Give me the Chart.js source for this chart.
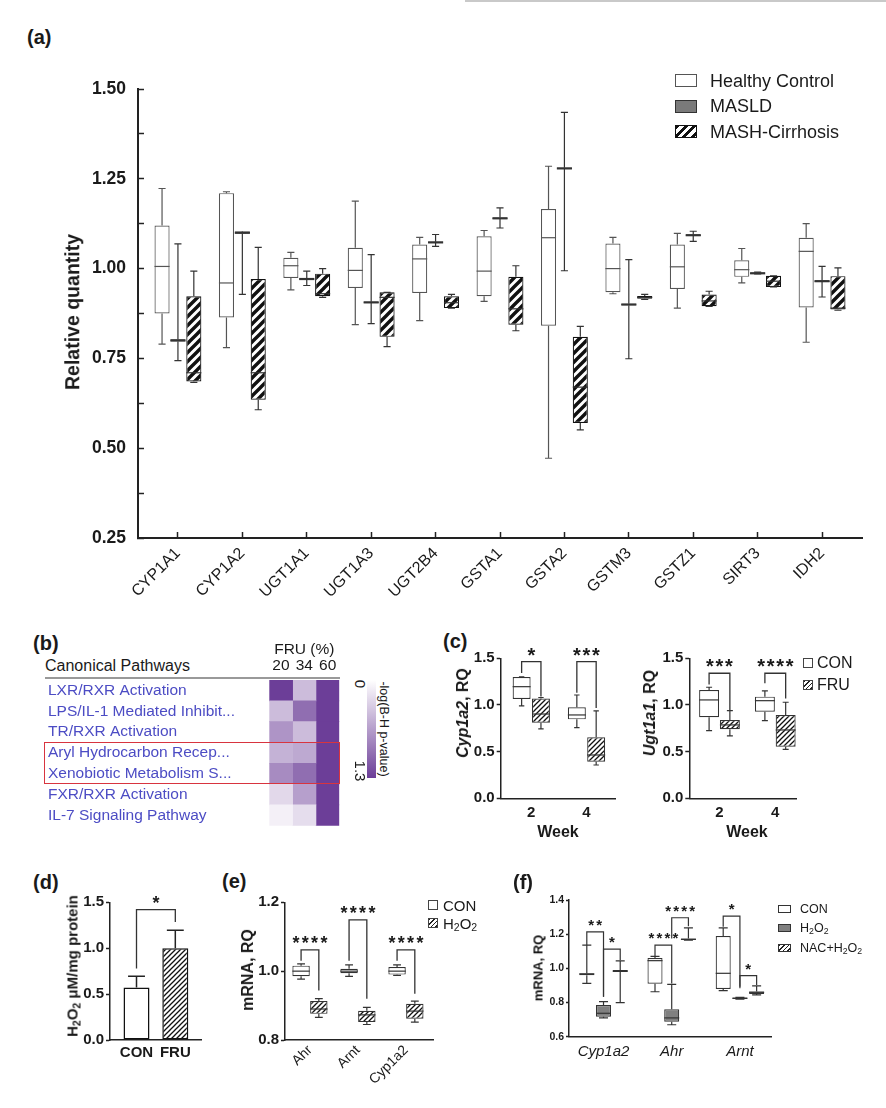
<!DOCTYPE html>
<html>
<head>
<meta charset="utf-8">
<title>Figure</title>
<script src="https://cdn.jsdelivr.net/npm/chart.js@4.4.0/dist/chart.umd.min.js"></script>
<style>
  body { margin: 0; background: #fff; }
  #fig { position: relative; width: 886px; height: 1108px; overflow: hidden; background: #fff;
         font-family: 'Liberation Sans', Arial, sans-serif; color: #1a1a1a; }
  #fig canvas { position: absolute; }
  .t   { position: absolute; white-space: nowrap; line-height: 1; transform: translateY(-50%); }
  .tc  { position: absolute; white-space: nowrap; line-height: 1; transform: translate(-50%, -50%); }
  .pl  { font-weight: bold; font-size: 20px; }
  .ttl { position: absolute; white-space: nowrap; line-height: 1; font-weight: bold;
         transform: translate(-50%, -50%) rotate(-90deg); }
  .r90 { position: absolute; white-space: nowrap; line-height: 1;
         transform: translate(-50%, -50%) rotate(90deg); }
  .sw  { position: absolute; box-sizing: border-box; }
  .hatch  { background: repeating-linear-gradient(135deg, #111 0 2.6px, #fff 2.6px 6px); }
  .hatchf { background: repeating-linear-gradient(135deg, #222 0 1.1px, #fff 1.1px 3.2px); }
  sub { font-size: 0.7em; vertical-align: -0.25em; line-height: 0; }
</style>
</head>
<body>
<div id="fig">
  <div style="position:absolute;left:465px;top:0;width:421px;height:2px;background:#c9c9c9"></div>

  <!-- (a) -->
  <div class="t pl" style="left:27px;top:37px">(a)</div>
  <canvas id="ca"></canvas>
  <div class="ttl" style="left:73px;top:312px;font-size:19.5px">Relative quantity</div>
  <div class="sw" style="left:675px;top:74px;width:22px;height:13px;border:1.3px solid #555;background:#fff"></div>
  <div class="t" style="left:710px;top:81px;font-size:18px">Healthy Control</div>
  <div class="sw" style="left:675px;top:99.5px;width:22px;height:13px;border:1.3px solid #333;background:#7a7a7a"></div>
  <div class="t" style="left:710px;top:106px;font-size:18px">MASLD</div>
  <div class="sw hatch" style="left:675px;top:125px;width:22px;height:13px;border:1.3px solid #111"></div>
  <div class="t" style="left:710px;top:132px;font-size:18px">MASH-Cirrhosis</div>

  <!-- (b) -->
  <div class="t pl" style="left:33px;top:643px">(b)</div>
  <div class="t" style="left:45px;top:666px;font-size:16px">Canonical Pathways</div>
  <div style="position:absolute;left:45px;top:676.5px;width:295px;height:2px;background:#999"></div>
  <canvas id="cb"></canvas>
  <div style="position:absolute;left:44px;top:741.5px;width:295.5px;height:42px;border:1.6px solid #d8343f;box-sizing:border-box"></div>
  <div style="position:absolute;left:367px;top:680px;width:8.5px;height:98px;background:linear-gradient(#fff, rgb(108,62,152))"></div>
  <div class="r90" style="left:360px;top:684px;font-size:15px">0</div>
  <div class="r90" style="left:360px;top:771px;font-size:15px">1.3</div>
  <div class="r90" style="left:384px;top:729px;font-size:12.5px">-log(B-H p-value)</div>

  <!-- (c) -->
  <div class="t pl" style="left:443px;top:641px">(c)</div>
  <canvas id="cc1"></canvas>
  <canvas id="cc2"></canvas>
  <div class="ttl" style="left:463px;top:713px;font-size:16px"><i>Cyp1a2</i>, RQ</div>
  <div class="ttl" style="left:650px;top:713px;font-size:16px"><i>Ugt1a1</i>, RQ</div>
  <div class="tc" style="left:558px;top:832px;font-size:16px;font-weight:bold">Week</div>
  <div class="tc" style="left:747px;top:832px;font-size:16px;font-weight:bold">Week</div>
  <div class="sw" style="left:802.5px;top:658px;width:10px;height:10px;border:1px solid #444;background:#fff"></div>
  <div class="t" style="left:817px;top:663px;font-size:16px">CON</div>
  <div class="sw hatchf" style="left:802.5px;top:680px;width:10px;height:10px;border:1px solid #444"></div>
  <div class="t" style="left:817px;top:685px;font-size:16px">FRU</div>

  <!-- (d) -->
  <div class="t pl" style="left:33px;top:882px">(d)</div>
  <canvas id="cd"></canvas>
  <div class="ttl" style="left:72px;top:966px;font-size:15px">H<sub>2</sub>O<sub>2</sub> μM/mg protein</div>

  <!-- (e) -->
  <div class="t pl" style="left:222px;top:881px">(e)</div>
  <canvas id="ce"></canvas>
  <div class="ttl" style="left:248px;top:970px;font-size:16px">mRNA, RQ</div>
  <div class="sw" style="left:428px;top:900px;width:10px;height:10px;border:1px solid #444;background:#fff"></div>
  <div class="t" style="left:443px;top:905px;font-size:15px">CON</div>
  <div class="sw hatchf" style="left:428px;top:918px;width:10px;height:10px;border:1px solid #444"></div>
  <div class="t" style="left:443px;top:923px;font-size:15px">H<sub>2</sub>O<sub>2</sub></div>

  <!-- (f) -->
  <div class="t pl" style="left:513px;top:882px">(f)</div>
  <canvas id="cf"></canvas>
  <div class="ttl" style="left:538px;top:968px;font-size:13px;color:#111">mRNA, RQ</div>
  <div class="sw" style="left:778px;top:905px;width:13px;height:8px;border:1px solid #333;background:#fff"></div>
  <div class="t" style="left:800px;top:909px;font-size:12.5px">CON</div>
  <div class="sw" style="left:778px;top:924px;width:13px;height:8px;border:1px solid #333;background:#808080"></div>
  <div class="t" style="left:800px;top:928px;font-size:12.5px">H<sub>2</sub>O<sub>2</sub></div>
  <div class="sw hatchf" style="left:778px;top:944px;width:13px;height:8px;border:1px solid #333"></div>
  <div class="t" style="left:800px;top:948px;font-size:12.5px">NAC+H<sub>2</sub>O<sub>2</sub></div>
</div>

<script>
// ── (a) human liver: [min, q1, median, q3, max] per gene ──
const genes = ['CYP1A1', 'CYP1A2', 'UGT1A1', 'UGT1A3', 'UGT2B4', 'GSTA1', 'GSTA2', 'GSTM3', 'GSTZ1', 'SIRT3', 'IDH2'];
const hcStats = [
  [0.79, 0.875, 1.006, 1.12, 1.223], [0.78, 0.864, 0.96, 1.21, 1.214], [0.941, 0.974, 1.008, 1.03, 1.045],
  [0.844, 0.946, 0.995, 1.058, 1.188], [0.855, 0.932, 1.027, 1.067, 1.087], [0.909, 0.923, 0.993, 1.09, 1.106],
  [0.472, 0.841, 1.086, 1.166, 1.285], [0.93, 0.934, 1.0, 1.07, 1.087], [0.89, 0.943, 1.005, 1.067, 1.098],
  [0.96, 0.977, 0.997, 1.023, 1.056], [0.795, 0.892, 1.048, 1.086, 1.125]
];
const masldStats = [
  [0.744, 0.797, 0.80, 0.803, 1.069], [0.928, 1.097, 1.10, 1.103, 1.10], [0.953, 0.969, 0.971, 0.973, 0.993],
  [0.847, 0.904, 0.906, 0.908, 1.039], [1.062, 1.071, 1.073, 1.075, 1.095], [1.113, 1.138, 1.14, 1.142, 1.169],
  [0.994, 1.277, 1.279, 1.281, 1.435], [0.749, 0.898, 0.90, 0.902, 1.025], [1.076, 1.091, 1.093, 1.095, 1.104],
  [0.985, 0.985, 0.987, 0.989, 0.99], [0.921, 0.963, 0.965, 0.967, 1.006]
];
const mashStats = [
  [0.683, 0.686, 0.71, 0.923, 0.993], [0.607, 0.635, 0.71, 0.971, 1.059], [0.92, 0.923, 0.93, 0.986, 1.0],
  [0.783, 0.81, 0.92, 0.934, 0.934], [0.89, 0.89, 0.905, 0.923, 0.928], [0.827, 0.844, 0.888, 0.977, 1.008],
  [0.551, 0.57, 0.67, 0.81, 0.839], [0.914, 0.916, 0.92, 0.924, 0.928], [0.895, 0.895, 0.91, 0.928, 0.937],
  [0.949, 0.949, 0.965, 0.98, 0.98], [0.884, 0.886, 0.89, 0.979, 1.002]
];

// ── (b) IPA heatmap, -log(B-H p) ──
const pathways = ['LXR/RXR Activation', 'LPS/IL-1 Mediated Inhibit...', 'TR/RXR Activation',
  'Aryl Hydrocarbon Recep...', 'Xenobiotic Metabolism S...', 'FXR/RXR Activation', 'IL-7 Signaling Pathway'];
const fruDoses = ['20', '34', '60'];
const fru20 = [1.3, 0.45, 0.72, 0.52, 0.78, 0.26, 0.1];
const fru34 = [0.45, 0.98, 0.45, 0.58, 0.98, 0.65, 0.23];
const fru60 = [1.3, 1.3, 1.3, 1.3, 1.3, 1.3, 1.3];

// ── (c) mouse liver, weeks ──
const weeks = ['2', '4'];
const cypCon = [[0.99, 1.064, 1.196, 1.30, 1.30], [0.757, 0.846, 0.893, 0.975, 1.107]];
const cypFru = [[0.743, 0.81, 0.903, 1.07, 1.08], [0.357, 0.392, 0.464, 0.654, 0.936]];
const ugtCon = [[0.725, 0.868, 1.054, 1.161, 1.19], [0.832, 0.928, 1.046, 1.089, 1.15]];
const ugtFru = [[0.668, 0.74, 0.786, 0.839, 0.939], [0.525, 0.553, 0.732, 0.893, 1.029]];

// ── (d) H2O2 ──
const dGroups = ['CON', 'FRU'];
const dMean = [0.572, 1.0];
const dErr = [0.123, 0.196];

// ── (e) H2O2 treatment ──
const eGenes = ['Ahr', 'Arnt', 'Cyp1a2'];
const eCon = [[0.977, 0.985, 1.0, 1.016, 1.021], [0.985, 0.994, 1.0, 1.007, 1.018], [0.988, 0.99, 1.0, 1.012, 1.018]];
const eH2o2 = [[0.866, 0.876, 0.89, 0.913, 0.92], [0.845, 0.852, 0.873, 0.885, 0.895], [0.852, 0.862, 0.884, 0.905, 0.913]];

// ── (f) NAC rescue ──
const fGenes = ['Cyp1a2', 'Ahr', 'Arnt'];
const fCon = [[0.912, 0.96, 0.967, 0.972, 1.136], [0.863, 0.91, 1.045, 1.06, 1.07], [0.87, 0.879, 0.971, 1.189, 1.237]];
const fH2o2 = [[0.71, 0.717, 0.737, 0.785, 0.805], [0.67, 0.688, 0.71, 0.76, 0.906], [0.82, 0.821, 0.825, 0.829, 0.83]];
const fNac = [[0.80, 0.978, 0.984, 0.99, 1.044], [1.165, 1.166, 1.17, 1.175, 1.237], [0.845, 0.85, 0.86, 0.865, 0.897]];

// significance brackets: a/b = [dataset, category], top/ea/eb in y units
const sigC1 = [
  { a: [0, 0], b: [1, 0], top: 1.464, ea: 1.343, eb: 1.09, t: '*' },
  { a: [0, 1], b: [1, 1], top: 1.464, ea: 1.13, eb: 0.968, t: '***' }
];
const sigC2 = [
  { a: [0, 0], b: [1, 0], top: 1.34, ea: 1.22, eb: 0.946, t: '***' },
  { a: [0, 1], b: [1, 1], top: 1.34, ea: 1.232, eb: 1.07, t: '****' }
];
const sigD = [{ a: [0, 0], b: [0, 1], top: 1.42, ea: 0.78, eb: 1.286, t: '*' }];
const sigE = [
  { a: [0, 0], b: [1, 0], top: 1.062, ea: 1.03, eb: 0.944, t: '****' },
  { a: [0, 1], b: [1, 1], top: 1.149, ea: 1.03, eb: 0.92, t: '****' },
  { a: [0, 2], b: [1, 2], top: 1.062, ea: 1.03, eb: 0.934, t: '****' }
];
const sigF = [
  { a: [0, 0], b: [1, 0], top: 1.214, ea: 1.136, eb: 0.834, t: '**' },
  { a: [1, 0], b: [2, 0], top: 1.113, ea: 0.834, eb: 1.047, t: '*' },
  { a: [0, 1], b: [1, 1], top: 1.136, ea: 1.072, eb: 0.912, t: '****' },
  { a: [1, 1], b: [2, 1], top: 1.296, ea: 1.175, eb: 1.247, t: '****' },
  { a: [0, 2], b: [1, 2], top: 1.306, ea: 1.243, eb: 0.892, t: '*' },
  { a: [1, 2], b: [2, 2], top: 0.957, ea: 0.883, eb: 0.902, t: '*' }
];

// ── setup ──
const FONT = "'Liberation Sans', Arial, sans-serif";
Chart.defaults.font.family = FONT;
Chart.defaults.color = '#1a1a1a';
Chart.defaults.animation = false;
Chart.defaults.responsive = false;
Chart.defaults.devicePixelRatio = 1;
Chart.defaults.plugins.legend.display = false;
Chart.defaults.plugins.tooltip.enabled = false;

const sigMap = {};

function hatch(size, lw, bg) {
  const c = document.createElement('canvas');
  c.width = c.height = size;
  const g = c.getContext('2d');
  g.fillStyle = bg; g.fillRect(0, 0, size, size);
  g.strokeStyle = '#111'; g.lineWidth = lw;
  g.beginPath();
  g.moveTo(-2, size + 2); g.lineTo(size + 2, -2);
  g.moveTo(-4, 4); g.lineTo(4, -4);
  g.moveTo(size - 4, size + 4); g.lineTo(size + 4, size - 4);
  g.stroke();
  return g.createPattern(c, 'repeat');
}
const hatchBold = hatch(9, 3.4, '#fff');
const hatchFine = hatch(5, 1.3, '#fff');

function heat(v) {
  const f = Math.max(0, Math.min(1, v / 1.3));
  const mix = (a, b) => Math.round(a + (b - a) * f);
  return `rgb(${mix(255, 108)},${mix(255, 62)},${mix(255, 152)})`;
}

function place(id, left, top, w, h) {
  const c = document.getElementById(id);
  c.width = w; c.height = h;
  c.style.left = left + 'px'; c.style.top = top + 'px';
  return c;
}

// chart area fixed inside the canvas
function frame(W, H, L, T, R, B) {
  return { padding: { left: 0, top: T, right: W - R, bottom: 0 }, yw: L, xh: H - B };
}

function yAxis(f, min, max, step, fmt, font, s = {}) {
  const tick = s.tick ?? 4;
  return {
    min, max,
    afterFit: sc => { sc.width = f.yw; },
    border: { display: true, color: '#222', width: s.bw || 1.5 },
    grid: { drawOnChartArea: false, drawTicks: true, offset: false, tickLength: tick, tickColor: '#222', tickWidth: s.tw || 1.5 },
    ticks: { stepSize: step, padding: s.pad ?? 2, autoSkip: false, color: '#1a1a1a', font, callback: fmt }
  };
}

function xAxis(f, labels, min, max, font, s = {}) {
  return {
    type: 'linear', min, max, offset: false,
    afterFit: sc => { sc.height = f.xh; },
    afterBuildTicks: sc => { sc.ticks = labels.map((l, i) => ({ value: i })); },
    border: { display: true, color: '#222', width: s.bw || 1.5 },
    grid: { drawOnChartArea: false, offset: false, drawTicks: !!s.tick, tickLength: s.tick || 0, tickColor: '#222', tickWidth: 1.5 },
    ticks: { autoSkip: false, minRotation: s.rotate || 0, maxRotation: s.rotate || 0, padding: s.pad ?? 5,
             color: '#1a1a1a', font, callback: v => labels[v] }
  };
}

function boxSet(stats, bg, border, extra) {
  return Object.assign({
    data: stats.map((s, i) => ({ x: i, y: [s[1], s[3]] })),
    stats, backgroundColor: bg, borderColor: border, borderWidth: 1.2, borderSkipped: false
  }, extra || {});
}

// whiskers, medians and error caps, from the bar elements + y scale
const boxPlugin = {
  id: 'boxwhisk',
  afterDatasetsDraw(chart) {
    const ys = chart.scales.y, ctx = chart.ctx;
    chart.data.datasets.forEach((ds, di) => {
      if (!ds.stats && !ds.err) return;
      chart.getDatasetMeta(di).data.forEach((bar, i) => {
        const x = bar.x, hw = bar.width / 2, cw = hw * (ds.cap || 0.4);
        ctx.save();
        ctx.strokeStyle = ds.whisker || '#333';
        ctx.lineWidth = ds.whiskerWidth || 1.2;
        ctx.beginPath();
        if (ds.stats) {
          const [mn, q1, md, q3, mx] = ds.stats[i].map(v => ys.getPixelForValue(v));
          ctx.moveTo(x, q3); ctx.lineTo(x, mx);
          ctx.moveTo(x - cw, mx); ctx.lineTo(x + cw, mx);
          ctx.moveTo(x, q1); ctx.lineTo(x, mn);
          ctx.moveTo(x - cw, mn); ctx.lineTo(x + cw, mn);
          ctx.stroke();
          ctx.beginPath();
          ctx.lineWidth = ds.medianWidth || 1.2;
          ctx.moveTo(x - hw, md); ctx.lineTo(x + hw, md);
          ctx.stroke();
        } else {
          const v = ds.data[i].y;
          const y0 = ys.getPixelForValue(v), y1 = ys.getPixelForValue(v + ds.err[i]);
          ctx.lineWidth = 1.5;
          ctx.moveTo(x, y0); ctx.lineTo(x, y1);
          ctx.moveTo(x - cw, y1); ctx.lineTo(x + cw, y1);
          ctx.stroke();
        }
        ctx.restore();
      });
    });
  }
};

const sigPlugin = {
  id: 'sigbrackets',
  afterDatasetsDraw(chart) {
    const cfg = sigMap[chart.canvas.id];
    if (!cfg) return;
    const ys = chart.scales.y, ctx = chart.ctx;
    ctx.save();
    ctx.strokeStyle = '#333'; ctx.lineWidth = cfg.lw || 1.3; ctx.fillStyle = '#1a1a1a';
    ctx.font = `bold ${cfg.size}px ${FONT}`;
    ctx.textAlign = 'center'; ctx.textBaseline = 'alphabetic';
    const m = ctx.measureText('*');
    cfg.items.forEach(it => {
      const xa = chart.getDatasetMeta(it.a[0]).data[it.a[1]].x;
      const xb = chart.getDatasetMeta(it.b[0]).data[it.b[1]].x;
      const yt = ys.getPixelForValue(it.top);
      ctx.beginPath();
      ctx.moveTo(xa, ys.getPixelForValue(it.ea)); ctx.lineTo(xa, yt);
      ctx.lineTo(xb, yt); ctx.lineTo(xb, ys.getPixelForValue(it.eb));
      ctx.stroke();
      const base = yt - cfg.gap + (m.actualBoundingBoxAscent - m.actualBoundingBoxDescent) / 2;
      const n = it.t.length, cx = (xa + xb) / 2;
      for (let k = 0; k < n; k++) ctx.fillText('*', cx + (k - (n - 1) / 2) * cfg.spacing, base);
    });
    ctx.restore();
  }
};
Chart.register(boxPlugin, sigPlugin);

// ── (a) ──
const fa = frame(886, 620, 138, 89, 862, 538);
const aOpt = { categoryPercentage: 0.74, barPercentage: 0.95, cap: 0.47 };
new Chart(place('ca', 0, 0, 886, 620), {
  type: 'bar',
  data: { datasets: [
    boxSet(hcStats, '#fff', '#555', Object.assign({ whisker: '#555' }, aOpt)),
    boxSet(masldStats, '#7a7a7a', '#333', Object.assign({ medianWidth: 2.2 }, aOpt)),
    boxSet(mashStats, hatchBold, '#111', aOpt)
  ] },
  options: {
    layout: { padding: fa.padding },
    scales: {
      x: xAxis(fa, genes, -0.62, 10.62, { size: 16 }, { rotate: 45, tick: -6, pad: 12, bw: 2 }),
      y: yAxis(fa, 0.25, 1.5, 0.125,
        v => Math.abs(v * 4 - Math.round(v * 4)) < 1e-6 ? v.toFixed(2) : '',
        { size: 17.5, weight: 'bold' }, { tick: -6, pad: 18, bw: 2 })
    }
  }
});

// ── (b) heatmap ──
new Chart(place('cb', 0, 640, 350, 195), {
  type: 'bar',
  data: {
    labels: pathways,
    datasets: [fru20, fru34, fru60].map((vals, k) => ({
      label: fruDoses[k], data: vals.map(() => 1), backgroundColor: vals.map(heat),
      borderWidth: 0, barPercentage: 1, categoryPercentage: 1
    }))
  },
  options: {
    indexAxis: 'y',
    layout: { padding: { left: 48, top: 0, right: 10.7, bottom: 7.7 } },
    scales: {
      x: {
        type: 'linear', position: 'top', stacked: true, min: 0, max: 3, offset: false,
        afterFit: sc => { sc.height = 40; },
        afterBuildTicks: sc => { sc.ticks = fruDoses.map((d, i) => ({ value: i + 0.5 })); },
        border: { display: false }, grid: { display: false, drawTicks: false },
        ticks: { padding: 5, color: '#1a1a1a', font: { size: 15.5 }, callback: v => fruDoses[Math.floor(v)] },
        title: { display: true, text: 'FRU (%)', padding: 0, color: '#1a1a1a', font: { size: 15.5 } }
      },
      y: {
        stacked: true,
        afterFit: sc => { sc.width = 221.3; },
        border: { display: false }, grid: { display: false, drawTicks: false },
        ticks: { crossAlign: 'far', padding: 0, autoSkip: false, color: '#4c4cc4', font: { size: 15.5 } }
      }
    }
  }
});

// ── (c) ──
const fc1 = frame(190, 210, 60.7, 18.3, 175, 158.3);
const c1Opt = { categoryPercentage: 0.70, barPercentage: 0.93, cap: 0.3 };
sigMap.cc1 = { items: sigC1, size: 20, spacing: 9.5, gap: 10 };
new Chart(place('cc1', 440, 640, 190, 210), {
  type: 'bar',
  data: { datasets: [
    boxSet(cypCon, '#fff', '#333', c1Opt),
    boxSet(cypFru, hatchFine, '#333', c1Opt)
  ] },
  options: {
    layout: { padding: fc1.padding },
    scales: {
      x: xAxis(fc1, weeks, -0.554, 1.516, { size: 15, weight: 'bold' }, { pad: 6 }),
      y: yAxis(fc1, 0, 1.5, 0.5, v => v.toFixed(1), { size: 15, weight: 'bold' })
    }
  }
});

const fc2 = frame(190, 210, 59.3, 18.3, 166.7, 158.3);
const c2Opt = { categoryPercentage: 0.745, barPercentage: 0.96, cap: 0.3 };
sigMap.cc2 = { items: sigC2, size: 20, spacing: 9.5, gap: 10 };
new Chart(place('cc2', 630, 640, 190, 210), {
  type: 'bar',
  data: { datasets: [
    boxSet(ugtCon, '#fff', '#333', c2Opt),
    boxSet(ugtFru, hatchFine, '#333', c2Opt)
  ] },
  options: {
    layout: { padding: fc2.padding },
    scales: {
      x: xAxis(fc2, weeks, -0.541, 1.384, { size: 15, weight: 'bold' }, { pad: 6 }),
      y: yAxis(fc2, 0, 1.5, 0.5, v => v.toFixed(1), { size: 15, weight: 'bold' })
    }
  }
});

// ── (d) ──
const fd = frame(150, 190, 50, 22.3, 141.7, 160);
sigMap.cd = { items: sigD, size: 18, spacing: 9, gap: 10 };
new Chart(place('cd', 60, 880, 150, 190), {
  type: 'bar',
  data: { datasets: [{
    data: dMean.map((v, i) => ({ x: i, y: v })), err: dErr,
    backgroundColor: ['#fff', hatchFine], borderColor: '#111', borderWidth: 1.5, borderSkipped: false,
    categoryPercentage: 1, barPercentage: 0.67, cap: 0.65, whisker: '#222'
  }] },
  options: {
    layout: { padding: fd.padding },
    scales: {
      x: xAxis(fd, dGroups, -0.683, 1.68, { size: 15, weight: 'bold' }, { pad: 4 }),
      y: yAxis(fd, 0, 1.5, 0.5, v => v.toFixed(1), { size: 15, weight: 'bold' })
    }
  }
});

// ── (e) ──
const fe = frame(215, 225, 55, 22.3, 203.3, 160);
const eOpt = { categoryPercentage: 0.74, barPercentage: 0.98, cap: 0.45 };
sigMap.ce = { items: sigE, size: 18, spacing: 9.3, gap: 10 };
new Chart(place('ce', 230, 880, 215, 225), {
  type: 'bar',
  data: { datasets: [
    boxSet(eCon, '#fff', '#333', eOpt),
    boxSet(eH2o2, hatchFine, '#333', eOpt)
  ] },
  options: {
    layout: { padding: fe.padding },
    scales: {
      x: xAxis(fe, eGenes, -0.52, 2.57, { size: 14 }, { rotate: 45, pad: 2 }),
      y: yAxis(fe, 0.8, 1.2, 0.2, v => v.toFixed(1), { size: 15, weight: 'bold' })
    }
  }
});

// ── (f) ──
const ff = frame(260, 190, 49, 20, 251.7, 156.7);
const fOpt = { categoryPercentage: 0.735, barPercentage: 0.9, cap: 0.6 };
sigMap.cf = { items: sigF, size: 15, spacing: 8, gap: 9, lw: 1.2 };
new Chart(place('cf', 520, 880, 260, 190), {
  type: 'bar',
  data: { datasets: [
    boxSet(fCon, '#fff', '#333', fOpt),
    boxSet(fH2o2, '#808080', '#333', fOpt),
    boxSet(fNac, hatchFine, '#333', fOpt)
  ] },
  options: {
    layout: { padding: ff.padding },
    scales: {
      x: xAxis(ff, fGenes, -0.506, 2.466, { size: 15, style: 'italic' }, { pad: 6 }),
      y: yAxis(ff, 0.6, 1.4, 0.2, v => v.toFixed(1), { size: 10.5, weight: 'bold' }, { tick: 3 })
    }
  }
});
</script>
</body>
</html>
